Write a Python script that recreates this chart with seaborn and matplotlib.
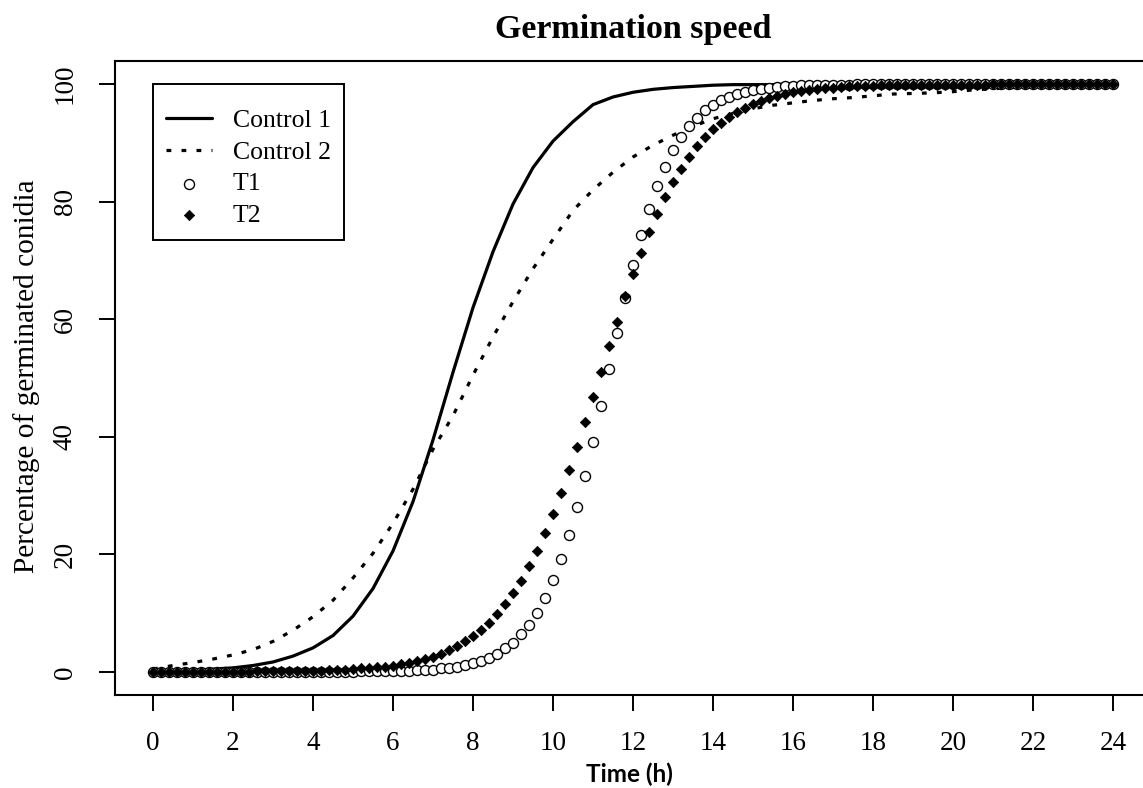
import numpy as np
import pandas as pd
import matplotlib
matplotlib.use("Agg")
import matplotlib.pyplot as plt
import seaborn as sns

# time grid of the observations (h)
time_pts = np.round(np.arange(0, 24.01, 0.2), 1)   # T1 / T2 points
time_line = np.arange(0, 24.01, 0.5)                # control curves

control_1 = [0.1, 0.2, 0.3, 0.5, 0.7, 1.1, 1.7, 2.7, 4.1, 6.2,
             9.5, 14.2, 20.6, 29.0, 39.5, 51.0, 62.0, 71.5, 79.6, 85.8,
             90.3, 93.6, 96.5, 97.8, 98.6, 99.1, 99.4, 99.6, 99.8, 99.9,
             99.9, 99.9, 100.0, 100.0, 100.0, 100.0, 100.0, 100.0, 100.0, 100.0,
             100.0, 100.0, 100.0, 100.0, 100.0, 100.0, 100.0, 100.0, 100.0]

control_2 = [0.5, 1.1, 1.6, 2.2, 2.9, 3.8, 5.2, 7.1, 9.4, 12.2,
             16.0, 20.2, 25.3, 31.1, 37.9, 43.6, 50.5, 57.0, 63.0, 68.6,
             73.6, 78.5, 82.0, 85.0, 87.6, 89.6, 91.3, 92.8, 94.1, 95.0,
             95.8, 96.4, 96.8, 97.2, 97.5, 97.7, 98.0, 98.3, 98.4, 98.5,
             98.7, 99.0, 99.2, 99.4, 99.5, 99.6, 99.7, 99.8, 99.8]

t1 = [0.0, 0.0, 0.0, 0.0, 0.0, 0.0, 0.0, 0.0, 0.0, 0.0,
      0.0, 0.0, 0.0, 0.0, 0.0, 0.0, 0.0, 0.0, 0.0, 0.0,
      0.0, 0.0, 0.0, 0.0, 0.0, 0.0, 0.1, 0.1, 0.1, 0.1,
      0.1, 0.2, 0.2, 0.3, 0.3, 0.4, 0.6, 0.7, 0.9, 1.2,
      1.5, 1.9, 2.4, 3.1, 4.0, 5.0, 6.4, 8.0, 10.1, 12.6,
      15.6, 19.2, 23.3, 28.1, 33.4, 39.2, 45.3, 51.5, 57.7, 63.6,
      69.2, 74.3, 78.7, 82.6, 85.9, 88.7, 91.0, 92.8, 94.3, 95.5,
      96.5, 97.2, 97.8, 98.3, 98.7, 99.0, 99.2, 99.4, 99.5, 99.6,
      99.7, 99.8, 99.8, 99.8, 99.9, 99.9, 99.9, 99.9, 100.0, 100.0,
      100.0, 100.0, 100.0, 100.0, 100.0, 100.0, 100.0, 100.0, 100.0, 100.0,
      100.0, 100.0, 100.0, 100.0, 100.0, 100.0, 100.0, 100.0, 100.0, 100.0,
      100.0, 100.0, 100.0, 100.0, 100.0, 100.0, 100.0, 100.0, 100.0, 100.0,
      100.0]

t2 = [0.0, 0.0, 0.0, 0.0, 0.0, 0.0, 0.0, 0.0, 0.0, 0.0,
      0.0, 0.0, 0.0, 0.1, 0.1, 0.1, 0.1, 0.1, 0.1, 0.2,
      0.2, 0.2, 0.3, 0.3, 0.4, 0.5, 0.6, 0.7, 0.8, 0.9,
      1.1, 1.3, 1.6, 1.9, 2.2, 2.6, 3.1, 3.7, 4.4, 5.2,
      6.1, 7.1, 8.4, 9.8, 11.5, 13.4, 15.5, 18.0, 20.6, 23.7,
      26.9, 30.4, 34.3, 38.2, 42.5, 46.8, 51.0, 55.5, 59.6, 63.9,
      67.7, 71.3, 74.8, 77.9, 80.8, 83.3, 85.6, 87.6, 89.4, 91.0,
      92.3, 93.4, 94.4, 95.3, 96.0, 96.6, 97.1, 97.6, 97.9, 98.3,
      98.6, 98.8, 99.0, 99.1, 99.3, 99.4, 99.5, 99.6, 99.6, 99.7,
      99.7, 99.8, 99.8, 99.8, 99.8, 99.8, 99.9, 99.9, 99.9, 99.9,
      99.9, 99.9, 99.9, 99.9, 99.9, 100.0, 100.0, 100.0, 100.0, 100.0,
      100.0, 100.0, 100.0, 100.0, 100.0, 100.0, 100.0, 100.0, 100.0, 100.0,
      100.0]

x_ticks = list(range(0, 25, 2))
y_ticks = list(range(0, 101, 20))

df_line = pd.DataFrame({"time": time_line, "c1": control_1, "c2": control_2})
df_pts = pd.DataFrame({"time": time_pts, "t1": t1, "t2": t2})

sns.set_style("ticks")
plt.rcParams["font.family"] = ["Liberation Serif", "DejaVu Serif"]
plt.rcParams["text.color"] = "black"

fig = plt.figure(figsize=(11.43, 7.88), dpi=100)
ax = fig.add_axes([0.1003, 0.1174, 0.9071, 0.8058])

sns.lineplot(data=df_line, x="time", y="c1", ax=ax, color="black", lw=2.3,
             label="Control 1")
sns.lineplot(data=df_line, x="time", y="c2", ax=ax, color="black", lw=2.3,
             label="Control 2", linestyle=(0, (1.5, 3.2)))
sns.scatterplot(data=df_pts, x="time", y="t1", ax=ax, marker="o", s=52,
                facecolor="white", edgecolor="black", linewidth=1.0,
                label="T1", zorder=3)
sns.scatterplot(data=df_pts, x="time", y="t2", ax=ax, marker="D", s=28,
                color="black", edgecolor="black", linewidth=0.5,
                label="T2", zorder=4)

ax.set_xlim(-0.96, 24.96)
ax.set_ylim(-4, 104)
ax.set_xticks(x_ticks)
ax.set_yticks(y_ticks)
ax.tick_params(axis="both", length=11.5, width=1.4, labelsize=19.5,
               colors="black")
ax.tick_params(axis="x", pad=14)
ax.tick_params(axis="y", pad=15, labelrotation=90)
for lab in ax.get_yticklabels():
    lab.set_verticalalignment("center")
for sp in ax.spines.values():
    sp.set_linewidth(1.5)
    sp.set_color("black")
    sp.set_visible(True)

ax.set_xlabel("")
ax.set_ylabel("")
ax.set_title("Germination speed", fontsize=24.5, fontweight="bold", pad=16)
fig.text(27 / 1143, 1 - 376 / 788, "Percentage of germinated conidia",
         rotation=90, ha="center", va="center", fontsize=21.2)
fig.text(629 / 1143, 6 / 788, "Time (h)", family=["Lato", "DejaVu Sans"],
         fontweight="bold", fontsize=17.5, ha="center", va="baseline")

leg = ax.legend(loc="upper left", bbox_to_anchor=(0, 100),
                bbox_transform=ax.transData, borderaxespad=0,
                frameon=True, fancybox=False, edgecolor="black",
                fontsize=18.5, title=" ", title_fontsize=3,
                handlelength=1.8, handletextpad=0.8, labelspacing=0.33,
                borderpad=0.5)
leg.get_frame().set_linewidth(1.4)
leg.get_frame().set_alpha(1)

fig.savefig("out.png", dpi=100)
